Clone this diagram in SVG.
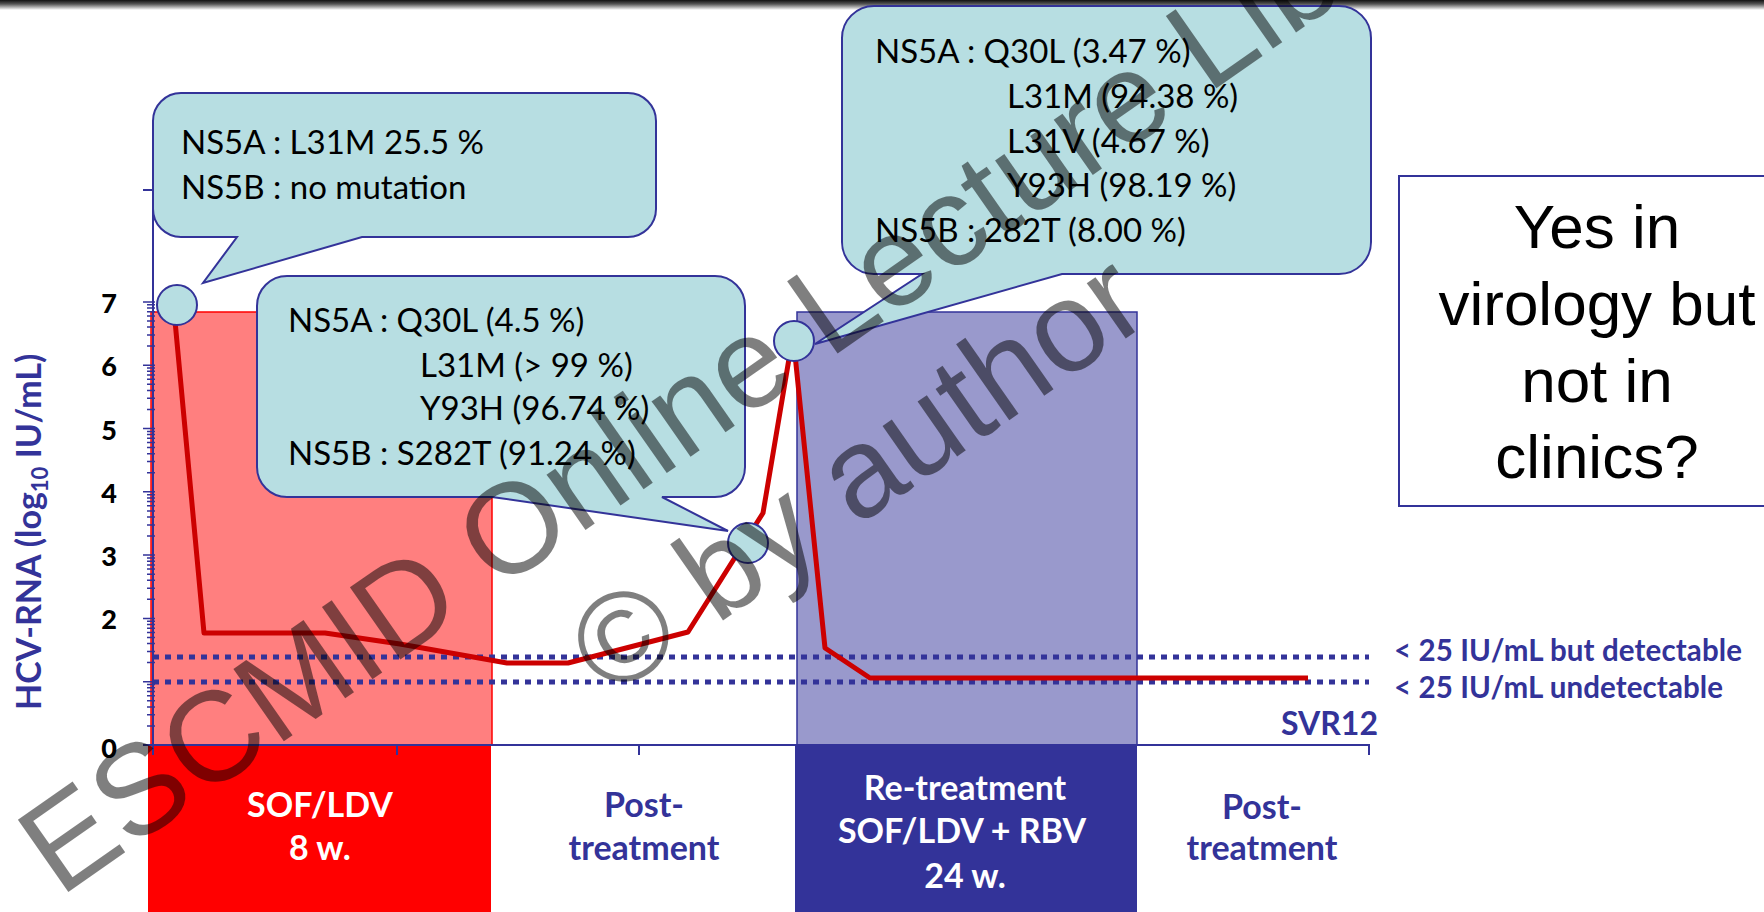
<svg xmlns="http://www.w3.org/2000/svg" width="1764" height="912" viewBox="0 0 1764 912">
<defs>
<linearGradient id="topbar" x1="0" y1="0" x2="0" y2="1">
<stop offset="0" stop-color="#111"/>
<stop offset="0.4" stop-color="#555"/>
<stop offset="1" stop-color="#fff"/>
</linearGradient>
<style>
.ct{font-family:Lato,"Open Sans","Liberation Sans",sans-serif;font-size:33px;fill:#000}
.bl{font-family:Lato,"Open Sans","Liberation Sans",sans-serif;font-weight:bold;fill:#333399}
.wh{font-family:Lato,"Open Sans","Liberation Sans",sans-serif;font-weight:bold;fill:#fff;font-size:34px;text-anchor:middle}
.yl{font-family:Lato,"Open Sans","Liberation Sans",sans-serif;font-weight:900;font-size:27px;fill:#000;text-anchor:middle}
.callout{fill:#B7DEE2;stroke:#333399;stroke-width:2}
.dot{fill:none;stroke:#333399;stroke-width:5;stroke-dasharray:6 6}
.ax{fill:none;stroke:#333399;stroke-width:2}
.tk{fill:none;stroke:#333399;stroke-width:1.5}
</style>
</defs>
<rect x="0" y="0" width="1764" height="912" fill="#fff"/>
<rect x="0" y="0" width="1764" height="10" fill="url(#topbar)"/>

<g id="phase-sofldv">
<rect x="151" y="312" width="341" height="433" fill="#FF7F7F" stroke="#FF0000" stroke-width="1.5"/>
<rect x="148" y="745" width="343" height="170" fill="#FF0000"/>
<text class="wh" x="320" y="817">SOF/LDV</text>
<text class="wh" x="320" y="860">8 w.</text>
</g>

<g id="phase-post1">
<text class="bl" x="644" y="817" font-size="34" text-anchor="middle">Post-</text>
<text class="bl" x="644" y="860" font-size="34" text-anchor="middle">treatment</text>
</g>

<g id="phase-retreatment">
<rect x="797" y="312" width="340" height="433" fill="#9999CC" stroke="#333399" stroke-width="1.5"/>
<rect x="795" y="744" width="342" height="170" fill="#333399"/>
<text class="wh" x="965" y="800">Re-treatment</text>
<text class="wh" x="962" y="843">SOF/LDV + RBV</text>
<text class="wh" x="965" y="888">24 w.</text>
</g>

<g id="phase-post2">
<text class="bl" x="1262" y="819" font-size="34" text-anchor="middle">Post-</text>
<text class="bl" x="1262" y="860" font-size="34" text-anchor="middle">treatment</text>
</g>

<g id="thresholds">
<line class="dot" x1="153" y1="657" x2="1369" y2="657"/>
<line class="dot" x1="153" y1="682" x2="1369" y2="682"/>
<text class="bl" x="1394" y="661" font-size="29.5" textLength="348">&lt; 25 IU/mL but detectable</text>
<text class="bl" x="1394" y="698" font-size="29.5" textLength="329">&lt; 25 IU/mL undetectable</text>
</g>

<g id="connectors">
<polyline points="174,310 204,633 325,633 400,644 507,663 568,663 688,632 763,513 793,335 825,648 870,678 1308,678" fill="none" stroke="#CC0000" stroke-width="5" stroke-linejoin="round"/>
</g>

<g id="axes">
<path class="ax" d="M153 190 V745 M143 745 H1369 V755 M153 745 V755 M397 745 V755 M639 745 V755"/>
<path class="ax" d="M143 190 H155"/>
<path class="tk" d="M143 745H155 M143 681.7H155 M143 618.4H155 M143 555.1H155 M143 491.8H155 M143 428.5H155 M143 365.2H155 M143 301.9H155
M147 725.9H155 M147 714.8H155 M147 706.9H155 M147 700.8H155 M147 695.7H155 M147 691.5H155 M147 687.8H155 M147 684.6H155
M147 662.6H155 M147 651.5H155 M147 643.6H155 M147 637.5H155 M147 632.4H155 M147 628.2H155 M147 624.5H155 M147 621.3H155
M147 599.3H155 M147 588.2H155 M147 580.3H155 M147 574.2H155 M147 569.1H155 M147 564.9H155 M147 561.2H155 M147 558.0H155
M147 536.0H155 M147 524.9H155 M147 517.0H155 M147 510.9H155 M147 505.8H155 M147 501.6H155 M147 497.9H155 M147 494.7H155
M147 472.7H155 M147 461.6H155 M147 453.7H155 M147 447.6H155 M147 442.5H155 M147 438.3H155 M147 434.6H155 M147 431.4H155
M147 409.4H155 M147 398.3H155 M147 390.4H155 M147 384.3H155 M147 379.2H155 M147 375.0H155 M147 371.3H155 M147 368.1H155
M147 346.1H155 M147 335.0H155 M147 327.1H155 M147 321.0H155 M147 315.9H155 M147 311.7H155 M147 308.0H155 M147 304.8H155"/>
<text class="yl" x="109" y="313">7</text>
<text class="yl" x="109" y="376">6</text>
<text class="yl" x="109" y="440">5</text>
<text class="yl" x="109" y="503">4</text>
<text class="yl" x="109" y="566">3</text>
<text class="yl" x="109" y="629">2</text>
<text class="yl" x="109" y="758">0</text>
<text class="bl" font-size="34" font-weight="900" transform="translate(41,710) rotate(-90)">HCV-RNA (log<tspan font-size="22" dy="7">10</tspan><tspan dy="-7"> IU/mL)</tspan></text>
<text class="bl" x="1378" y="735" font-size="32" text-anchor="end">SVR12</text>
</g>

<g id="callout-baseline">
<path class="callout" d="M181 93 H628 A28 28 0 0 1 656 121 V209 A28 28 0 0 1 628 237 H362 L203 283 L237 237 H181 A28 28 0 0 1 153 209 V121 A28 28 0 0 1 181 93 Z"/>
<text class="ct" x="181" y="154">NS5A : L31M 25.5 %</text>
<text class="ct" x="181" y="199">NS5B : no mutation</text>
</g>

<g id="callout-relapse">
<path class="callout" d="M287 276 H715 A30 30 0 0 1 745 306 V467 A30 30 0 0 1 715 497 H662 L728 531 L492 497 H287 A30 30 0 0 1 257 467 V306 A30 30 0 0 1 287 276 Z"/>
<text class="ct" x="288" y="332">NS5A : Q30L (4.5 %)</text>
<text class="ct" x="420" y="377">L31M (&gt; 99 %)</text>
<text class="ct" x="420" y="420">Y93H (96.74 %)</text>
<text class="ct" x="288" y="465">NS5B : S282T (91.24 %)</text>
</g>

<g id="callout-peak">
<path class="callout" d="M874 6 H1339 A32 32 0 0 1 1371 38 V242 A32 32 0 0 1 1339 274 H1062 L815 344 L922 274 H874 A32 32 0 0 1 842 242 V38 A32 32 0 0 1 874 6 Z"/>
<text class="ct" x="875" y="63">NS5A : Q30L (3.47 %)</text>
<text class="ct" x="1007" y="108">L31M (94.38 %)</text>
<text class="ct" x="1007" y="153">L31V (4.67 %)</text>
<text class="ct" x="1007" y="197">Y93H (98.19 %)</text>
<text class="ct" x="875" y="242">NS5B : 282T (8.00 %)</text>
</g>

<g id="markers">
<circle class="callout" cx="177" cy="305" r="20"/>
<circle class="callout" cx="748" cy="543" r="20"/>
<circle class="callout" cx="794" cy="341" r="20"/>
</g>

<g id="question">
<rect x="1399" y="176" width="400" height="330" fill="#fff" stroke="#333399" stroke-width="2"/>
<g font-family="'Liberation Sans',Arial,sans-serif" font-size="62" text-anchor="middle" fill="#000">
<text x="1597" y="248">Yes in</text>
<text x="1597" y="325">virology but</text>
<text x="1597" y="402">not in</text>
<text x="1597" y="478">clinics?</text>
</g>
</g>

<g id="watermark" transform="translate(794,384) rotate(-35)" font-family="'Liberation Sans',Arial,sans-serif" font-size="128" text-anchor="middle" fill="#000" fill-opacity="0.5">
<text x="0" y="0">ESCMID Online Lecture Library</text>
<text x="0" y="153">© by author</text>
</g>
</svg>
